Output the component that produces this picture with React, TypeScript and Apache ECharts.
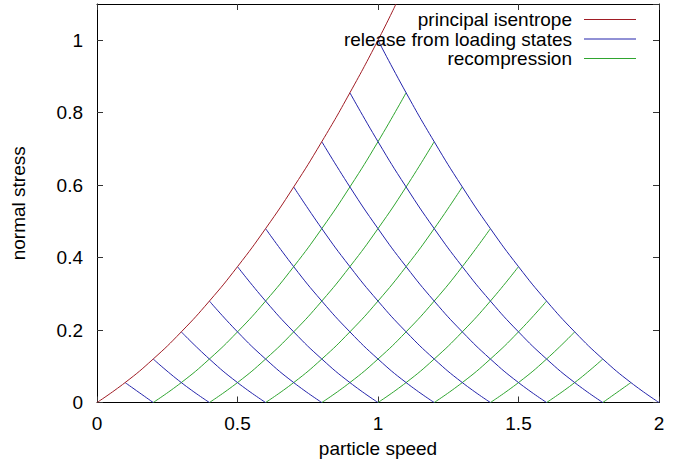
import React, { useEffect, useRef } from "react";
import * as echarts from "echarts";

// Principal isentrope (particle speed, normal stress)
const ISENTROPE_SPEED = [0, 0.1, 0.2, 0.3, 0.4, 0.5, 0.6, 0.7, 0.8, 0.9, 1.0, 1.064];
const ISENTROPE_STRESS = [0, 0.055, 0.12, 0.195, 0.28, 0.375, 0.48, 0.595, 0.72, 0.855, 1.0, 1.1];
// Indices of loading states on the isentrope from which release curves start
const LOADING_STATE_INDICES = [1, 2, 3, 4, 5, 6, 7, 8, 9, 10];
// Particle speeds on the zero-stress axis where recompression curves start
const RECOMPRESSION_STARTS = [0.2, 0.4, 0.6, 0.8, 1.0, 1.2, 1.4, 1.6, 1.8];
const X_TICKS = [0, 0.5, 1, 1.5, 2];
const Y_TICKS = [0, 0.2, 0.4, 0.6, 0.8, 1];
const LEGEND_LABELS = ["principal isentrope", "release from loading states", "recompression"];

const RED = "#a01c24";
const BLUE = "#2323ab";
const GREEN = "#2fa52f";
const FONT = "Liberation Sans, Arial, sans-serif";
const FS = 19;

export default function App() {
  const ref = useRef<HTMLDivElement>(null);
  useEffect(() => {
    if (!ref.current) return;
    const chart = echarts.init(ref.current, undefined, { renderer: "svg" });

    const series: any[] = [];
    series.push({
      name: LEGEND_LABELS[0],
      type: "line",
      data: ISENTROPE_SPEED.map((u, i) => [u, ISENTROPE_STRESS[i]]),
      smooth: true,
      showSymbol: false,
      lineStyle: { color: RED, width: 1 },
      z: 3,
    });
    LOADING_STATE_INDICES.forEach((k) => {
      const data: number[][] = [];
      for (let j = k; j >= 0; j--) {
        data.push([2 * ISENTROPE_SPEED[k] - ISENTROPE_SPEED[j], ISENTROPE_STRESS[j]]);
      }
      series.push({
        name: LEGEND_LABELS[1] + " " + k,
        type: "line",
        data,
        smooth: true,
        showSymbol: false,
        lineStyle: { color: BLUE, width: 1 },
        z: 2,
      });
    });
    RECOMPRESSION_STARTS.forEach((a, m) => {
      const last = 10 - (m + 1);
      const data: number[][] = [];
      for (let j = 0; j <= last; j++) {
        data.push([a + ISENTROPE_SPEED[j], ISENTROPE_STRESS[j]]);
      }
      series.push({
        name: LEGEND_LABELS[2] + " " + (m + 1),
        type: "line",
        data,
        smooth: true,
        showSymbol: false,
        lineStyle: { color: GREEN, width: 1 },
        z: 1,
      });
    });

    const axisCommon = {
      type: "value" as const,
      splitLine: { show: false },
      axisLine: { show: true, onZero: false, lineStyle: { color: "#000", width: 1 } },
      axisTick: { show: true, inside: true, length: 6, lineStyle: { color: "#333" } },
    };
    const labelStyle = { color: "#000", fontFamily: FONT, fontSize: FS };

    const legendGraphics: any[] = [];
    const legendColors = [RED, BLUE, GREEN];
    const rowY = [19.5, 39, 58.5];
    LEGEND_LABELS.forEach((t, i) => {
      legendGraphics.push({
        type: "text",
        x: 572,
        y: rowY[i],
        style: {
          text: t,
          fill: "#000",
          font: `${FS}px ${FONT}`,
          textAlign: "right",
          textVerticalAlign: "middle",
        },
        z: 10,
      });
      legendGraphics.push({
        type: "line",
        shape: { x1: 584, y1: rowY[i], x2: 636, y2: rowY[i] },
        style: { stroke: legendColors[i], lineWidth: 1 },
        z: 10,
      });
    });

    chart.setOption({
      animation: false,
      backgroundColor: "#fff",
      grid: { left: 97, right: 35, top: 4, bottom: 60.5, containLabel: false },
      xAxis: [
        {
          ...axisCommon,
          position: "bottom",
          min: X_TICKS[0],
          max: X_TICKS[X_TICKS.length - 1],
          interval: 0.5,
          name: "particle speed",
          nameLocation: "middle",
          nameGap: 36,
          nameTextStyle: labelStyle,
          axisLabel: { ...labelStyle, margin: 11 },
        },
        {
          ...axisCommon,
          position: "top",
          min: X_TICKS[0],
          max: X_TICKS[X_TICKS.length - 1],
          interval: 0.5,
          axisLabel: { show: false },
        },
      ],
      yAxis: [
        {
          ...axisCommon,
          position: "left",
          min: Y_TICKS[0],
          max: 1.1,
          interval: 0.2,
          name: "normal stress",
          nameLocation: "middle",
          nameGap: 69,
          nameTextStyle: labelStyle,
          axisLabel: { ...labelStyle, margin: 14, showMaxLabel: false },
        },
        {
          ...axisCommon,
          position: "right",
          min: Y_TICKS[0],
          max: 1.1,
          interval: 0.2,
          axisLabel: { show: false },
        },
      ],
      series,
      graphic: legendGraphics,
    });
    return () => chart.dispose();
  }, []);
  return (
    <div
      ref={ref}
      style={{ position: "fixed", left: 0, top: 0, width: 694, height: 463 }}
    />
  );
}
